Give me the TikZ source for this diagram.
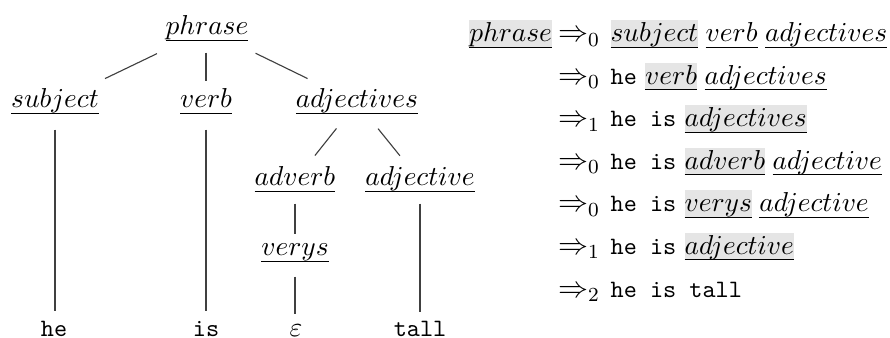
\documentclass[tikz,border=0pt]{standalone}
\usepackage{xcolor}
\newcommand\ntf{\fontsize{11}{13}\selectfont}
\newcommand\ulx[1]{\leavevmode\setbox0=\hbox{\ntf$#1$}\rlap{\rule[-2.4pt]{\wd0}{0.4pt}}\box0\relax}
\newcommand\hlx[1]{\leavevmode\setbox0=\hbox{\ntf$#1$}\rlap{\color{gray!20}\rule[-2.4pt]{\wd0}{11pt}}\rlap{\rule[-2.4pt]{\wd0}{0.4pt}}\box0\relax}
\newcommand\gp{\hspace{3pt}}
\newcommand\dr[1]{{\fontsize{12}{14}\selectfont$\Rightarrow_{#1}$}\hspace{4.3pt}}
\begin{document}
\begin{tikzpicture}[x=0.4pt,y=-0.4pt,
  every node/.style={inner sep=0pt,outer sep=0pt},
  br/.style={draw=black!75,line width=0.45pt},
  wd/.style={anchor=base},
  row/.style={anchor=base west}]
\useasboundingbox (0,0) rectangle (890,338);
% tree
\node[wd] (phrase) at (207,35) {\ulx{phrase}};
\node[wd] (subject) at (55,108) {\ulx{subject}};
\node[wd] (verb) at (206,108) {\ulx{verb}};
\node[wd] (adjectives) at (357,108) {\ulx{adjectives}};
\node[wd] (adverb) at (295,186) {\ulx{adverb}};
\node[wd] (adjective) at (420,186) {\ulx{adjective}};
\node[wd] (verys) at (295,256) {\ulx{verys}};
\node[wd] (he) at (54,336) {\texttt{he}};
\node[wd] (is) at (206,336) {\texttt{is}};
\node[wd] (eps) at (296,336) {\ntf$\varepsilon$};
\node[wd] (tall) at (420,336) {\texttt{tall}};
\draw[br,shorten <=22.2pt,shorten >=22.2pt] (phrase.mid) -- (subject.mid);
\draw[br,shorten <=9.2pt,shorten >=8.8pt] (verb.mid |- phrase.mid) -- (verb.mid);
\draw[br,shorten <=21.6pt,shorten >=22pt] (phrase.mid) -- (adjectives.mid);
\draw[br,shorten <=10.8pt,shorten >=8pt] (subject.mid) -- (subject.mid |- he.mid);
\draw[br,shorten <=10.8pt,shorten >=8pt] (verb.mid) -- (verb.mid |- is.mid);
\draw[br,shorten <=13.2pt,shorten >=12.8pt] (adjectives.mid) -- (adverb.mid);
\draw[br,shorten <=13.4pt,shorten >=12.8pt] (adjectives.mid) -- (adjective.mid);
\draw[br,shorten <=9.2pt,shorten >=6.8pt] (adverb.mid) -- (adverb.mid |- verys.mid);
\draw[br,shorten <=10.4pt,shorten >=6.8pt] (verys.mid) -- (verys.mid |- eps.mid);
\draw[br,shorten <=9.2pt,shorten >=7.6pt] (adjective.mid) -- (adjective.mid |- tall.mid);
% derivation
\node[anchor=base east] (lhs) at (552,42) {\hlx{phrase}};
\node[row] (r1) at (558,42) {\dr{0}\hlx{subject}\gp\ulx{verb}\gp\ulx{adjectives}};
\node[row] (r2) at (558,84.5) {\dr{0}\texttt{he} \hlx{verb}\gp\ulx{adjectives}};
\node[row] (r3) at (558,127) {\dr{1}\texttt{he is} \hlx{adjectives}};
\node[row] (r4) at (558,169.5) {\dr{0}\texttt{he is} \hlx{adverb}\gp\ulx{adjective}};
\node[row] (r5) at (558,212) {\dr{0}\texttt{he is} \hlx{verys}\gp\ulx{adjective}};
\node[row] (r6) at (558,254.5) {\dr{1}\texttt{he is} \hlx{adjective}};
\node[row] (r7) at (558,297) {\dr{2}\texttt{he is tall}};
\end{tikzpicture}
\end{document}
